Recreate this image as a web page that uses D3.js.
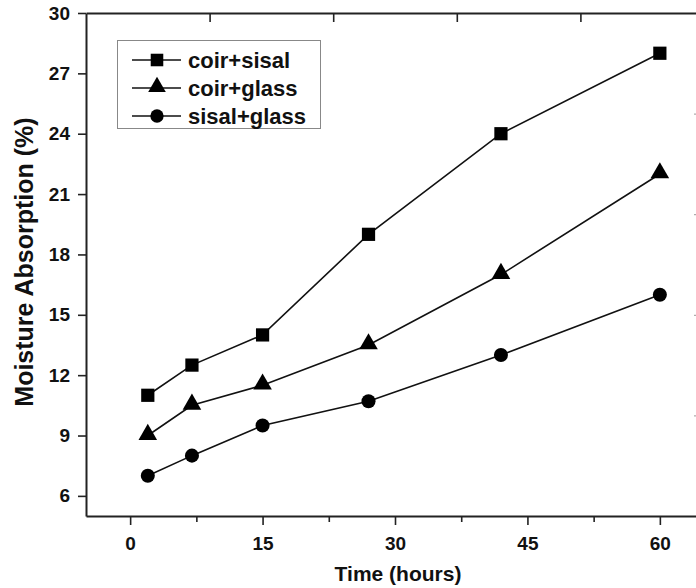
<!DOCTYPE html>
<html>
<head>
<meta charset="utf-8">
<script src="https://cdn.jsdelivr.net/npm/d3@7"></script>
<style>
  body { margin: 0; background: #fff; }
  svg { display: block; }
  text { font-family: "Liberation Sans", Arial, sans-serif; font-weight: bold; fill: #111; }
</style>
</head>
<body>
<svg id="chart" width="696" height="588"></svg>
<script>

// time in hours
var hours = [2, 7, 15, 27, 42, 60];

var seriesNames = ["coir+sisal", "coir+glass", "sisal+glass"];

var coirSisal = [11, 12.5, 14, 19, 24, 28];
var coirGlass = [9, 10.5, 11.5, 13.5, 17, 22];
var sisalGlass = [7, 8, 9.5, 10.7, 13, 16];

var xTicks = [0, 15, 30, 45, 60];
var xMinorTicks = [7.5, 22.5, 37.5, 52.5];
var yTicks = [6, 9, 12, 15, 18, 21, 24, 27, 30];
// opposite axes have their own (unlabelled) ticks
var topTicks = [9, 23, 37, 51];
var rightTicks = [10, 15, 20, 25];

var markers = [d3.symbolSquare, d3.symbolTriangle, d3.symbolCircle];
var markerSizes = [175, 150, 155];

var svg = d3.select('#chart');

var plotLeft = 86, plotTop = 13, plotBottom = 516, plotRight = 704;

var x = d3.scaleLinear().domain([-5, 65]).range([plotLeft, plotRight]);
var y = d3.scaleLinear().domain([5, 30]).range([plotBottom, plotTop]);

function styleAxis(g){
    g.selectAll('.domain').attr('stroke', '#222').attr('stroke-width', 2);
    g.selectAll('.tick line').attr('stroke', '#222').attr('stroke-width', 1.6);
}

function styleLabels(g){
    g.attr('font-size', null).attr('font-family', null);
    g.selectAll('text').attr('font-size', 19).attr('fill', '#111')
        .attr('font-family', '"Liberation Sans", Arial, sans-serif').attr('font-weight', 'bold');
}

// bottom axis, major ticks
var xAxis = svg.append('g')
    .attr('transform', 'translate(0,' + plotBottom + ')')
    .call(d3.axisBottom(x).tickValues(xTicks).tickSize(9).tickSizeOuter(0).tickPadding(12));
styleAxis(xAxis);
styleLabels(xAxis);

// bottom axis, minor ticks
var xMinor = svg.append('g')
    .attr('transform', 'translate(0,' + plotBottom + ')')
    .call(d3.axisBottom(x).tickValues(xMinorTicks).tickSize(6).tickFormat(''));
xMinor.select('.domain').remove();
styleAxis(xMinor);

// left axis
var yAxis = svg.append('g')
    .attr('transform', 'translate(' + plotLeft + ',0)')
    .call(d3.axisLeft(y).tickValues(yTicks).tickSize(8).tickSizeOuter(0).tickPadding(8));
styleAxis(yAxis);
styleLabels(yAxis);

// top axis
var topAxis = svg.append('g')
    .attr('transform', 'translate(0,' + plotTop + ')')
    .call(d3.axisTop(x).tickValues(topTicks).tickSize(-9).tickSizeOuter(0).tickFormat(''));
styleAxis(topAxis);

// right axis (mostly cut off by the picture edge)
var rightAxis = svg.append('g')
    .attr('transform', 'translate(' + plotRight + ',0)')
    .call(d3.axisRight(y).tickValues(rightTicks).tickSize(-10).tickSizeOuter(0).tickFormat(''));
styleAxis(rightAxis);
rightAxis.selectAll('.tick line').attr('stroke', '#999').attr('stroke-width', 1);

// axis titles
svg.append('text')
    .attr('x', 398)
    .attr('y', 581)
    .attr('text-anchor', 'middle')
    .attr('font-size', 21)
    .text('Time (hours)');

svg.append('text')
    .attr('transform', 'translate(33,262) rotate(-90)')
    .attr('text-anchor', 'middle')
    .attr('font-size', 25)
    .text('Moisture Absorption (%)');

// series
var allSeries = [coirSisal, coirGlass, sisalGlass];

var line = d3.line()
    .x(function(d){ return x(d[0]); })
    .y(function(d){ return y(d[1]); });

allSeries.forEach(function(values, i){

    var pts = hours.map(function(h, j){ return [h, values[j]]; });

    svg.append('path')
        .datum(pts)
        .attr('d', line)
        .attr('fill', 'none')
        .attr('stroke', '#111')
        .attr('stroke-width', 1.6);

    svg.selectAll('.m' + i)
        .data(pts)
        .enter()
        .append('path')
        .attr('class', 'm' + i)
        .attr('transform', function(d){
            // nudge the triangle so its centroid sits on the point
            var dy = (i == 1) ? -1 : 0;
            return 'translate(' + x(d[0]) + ',' + (y(d[1]) + dy) + ')';
        })
        .attr('d', d3.symbol().type(markers[i]).size(markerSizes[i]))
        .attr('fill', '#000');
});

// legend
var legend = svg.append('g');

legend.append('rect')
    .attr('x', 117.5)
    .attr('y', 40.5)
    .attr('width', 203)
    .attr('height', 88)
    .attr('fill', '#fff')
    .attr('stroke', '#888')
    .attr('stroke-width', 1);

var rowY = [60, 88, 116];

seriesNames.forEach(function(name, i){

    legend.append('line')
        .attr('x1', 132).attr('x2', 181)
        .attr('y1', rowY[i]).attr('y2', rowY[i])
        .attr('stroke', '#111')
        .attr('stroke-width', 1.6);

    legend.append('path')
        .attr('transform', 'translate(157,' + (rowY[i] + (i == 1 ? -1 : 0)) + ')')
        .attr('d', d3.symbol().type(markers[i]).size(markerSizes[i] * 0.9))
        .attr('fill', '#000');

    legend.append('text')
        .attr('x', 188)
        .attr('y', rowY[i] + 7.5)
        .attr('font-size', 22)
        .text(name);
});

</script>
</body>
</html>
